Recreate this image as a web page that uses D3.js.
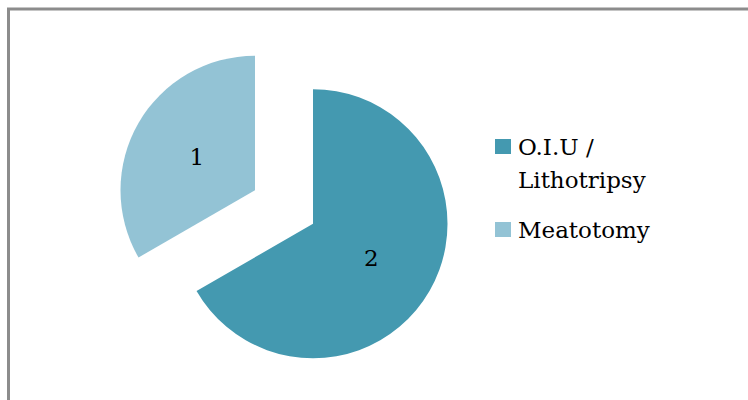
<!DOCTYPE html>
<html>
<head>
<meta charset="utf-8">
<script src="https://cdn.jsdelivr.net/npm/d3@7"></script>
<style>
  html, body { margin: 0; padding: 0; background: #fff; }
  svg { display: block; }
</style>
</head>
<body>
<svg id="chart" width="748" height="400"></svg>
<script>
// Procedure counts
const categories = ["O.I.U / Lithotripsy", "Meatotomy"];
const values = [2, 1];
const legendLines = [["O.I.U /", "Lithotripsy"], ["Meatotomy"]];
const colors = ["#4499B0", "#93C3D5"];

const svg = d3.select("#chart");
const font = "'DejaVu Serif', 'Liberation Serif', serif";

// Chart frame (left and top edges visible, right/bottom run off the page)
svg.append("rect")
  .attr("x", 8.5).attr("y", 9)
  .attr("width", 760).attr("height", 420)
  .attr("fill", "none")
  .attr("stroke", "#8c8c8c")
  .attr("stroke-width", 3);

const cx = 284, cy = 207, radius = 134.5, explode = 33.5;

const pie = d3.pie().sort(null).value(d => d)(values);
const arc = d3.arc().innerRadius(0).outerRadius(radius);

const g = svg.append("g").attr("transform", `translate(${cx},${cy})`);

const slices = g.selectAll("g.slice")
  .data(pie)
  .enter().append("g")
  .attr("class", "slice")
  .attr("transform", d => {
    const a = (d.startAngle + d.endAngle) / 2;
    return `translate(${explode * Math.sin(a)},${-explode * Math.cos(a)})`;
  });

slices.append("path")
  .attr("d", arc)
  .attr("fill", (d, i) => colors[i]);

slices.append("text")
  .attr("transform", d => {
    const a = (d.startAngle + d.endAngle) / 2;
    const r = radius * 0.5;
    return `translate(${r * Math.sin(a)},${-r * Math.cos(a)})`;
  })
  .attr("text-anchor", "middle")
  .attr("dy", "0.36em")
  .attr("font-family", font)
  .attr("font-size", 23)
  .attr("fill", "#000")
  .text(d => d.data);

// Legend
const legend = svg.append("g").attr("transform", "translate(495,139)");
const rowOffsets = [0, 83];
categories.forEach((c, i) => {
  const row = legend.append("g").attr("transform", `translate(0,${rowOffsets[i]})`);
  row.append("rect")
    .attr("x", 0).attr("y", 0)
    .attr("width", 16).attr("height", 15)
    .attr("fill", colors[i]);
  const t = row.append("text")
    .attr("x", 23).attr("y", 16)
    .attr("font-family", font)
    .attr("font-size", 23)
    .attr("fill", "#000");
  legendLines[i].forEach((line, j) => {
    t.append("tspan").attr("x", 23).attr("dy", j === 0 ? 0 : 33).text(line);
  });
});
</script>
</body>
</html>
